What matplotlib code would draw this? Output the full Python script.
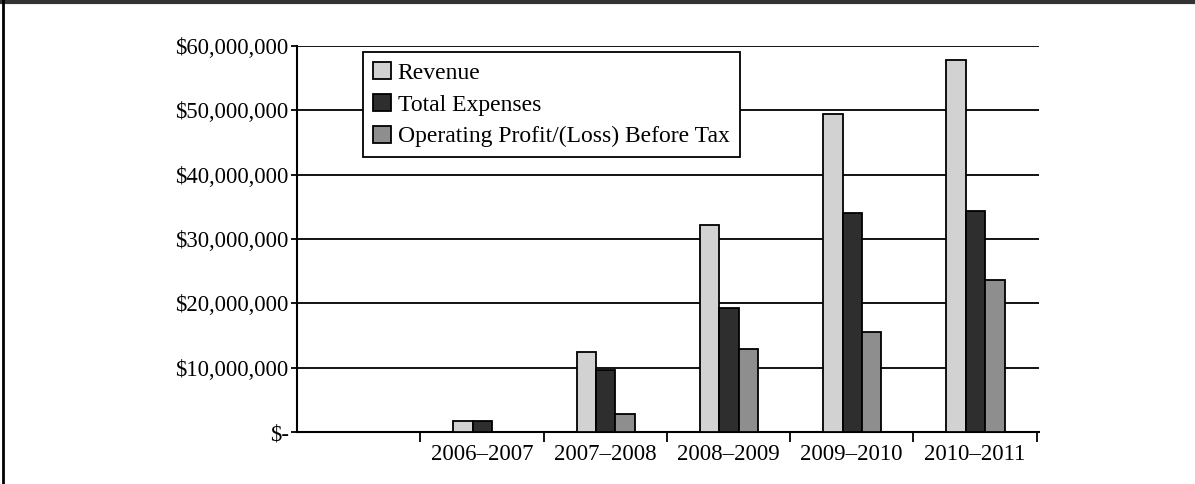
import matplotlib
matplotlib.use("Agg")
import matplotlib.pyplot as plt
import numpy as np
from matplotlib.lines import Line2D

categories = ["2006–2007", "2007–2008", "2008–2009", "2009–2010", "2010–2011"]
revenue = [1.75e6, 12.4e6, 32.2e6, 49.5e6, 57.8e6]
expenses = [1.7e6, 9.6e6, 19.3e6, 34.0e6, 34.3e6]
profit = [0.05e6, 2.8e6, 12.9e6, 15.6e6, 23.6e6]
series_names = ["Revenue", "Total Expenses", "Operating Profit/(Loss) Before Tax"]
y_ticks = [0, 10e6, 20e6, 30e6, 40e6, 50e6, 60e6]
y_labels = ["$-", "$10,000,000", "$20,000,000", "$30,000,000", "$40,000,000", "$50,000,000", "$60,000,000"]

plt.rcParams['font.family'] = ['Liberation Serif', 'DejaVu Serif']

fig = plt.figure(figsize=(11.95, 4.84), dpi=100)
ax = fig.add_axes([297/1195, 52/484, (1039-297)/1195, (432-46)/484])

x = np.arange(len(categories))
w = 0.157
colors = ["#d2d2d2", "#2e2e2e", "#8e8e8e"]
for i, (vals, c, name) in enumerate(zip([revenue, expenses, profit], colors, series_names)):
    ax.bar(x + (i - 1) * w + 0.005, vals, width=w, color=c, edgecolor="black", linewidth=1.3,
           label=name, zorder=3)

ax.set_xlim(-1.5, 4.52)
ax.set_ylim(0, 60e6)
ax.set_yticks(y_ticks)
ax.set_yticklabels(y_labels)
ax.yaxis.grid(True, color="black", linewidth=1.3, zorder=0)
ax.set_axisbelow(True)

ax.set_xticks(x)
ax.set_xticklabels(categories)
ax.set_xticks(np.arange(-0.5, 4.6, 1.0), minor=True)
ax.tick_params(axis="x", which="major", length=0, pad=9, labelsize=16.5)
ax.tick_params(axis="x", which="minor", length=7, width=1.3, direction="out")
ax.tick_params(axis="y", length=4, width=1.3, pad=2, labelsize=16.3)

for s in ["top", "right"]:
    ax.spines[s].set_visible(False)
for s in ["left", "bottom"]:
    ax.spines[s].set_linewidth(1.5)
    ax.spines[s].set_color("black")

leg = ax.legend(loc="upper left", bbox_to_anchor=((363-297)/742, (432-52)/386),
                frameon=True, fancybox=False, fontsize=17, handlelength=0.75, handleheight=0.75,
                handletextpad=0.3, labelspacing=0.42, borderpad=0.42, borderaxespad=0)
leg.get_frame().set_edgecolor("black")
leg.get_frame().set_linewidth(1.3)
leg.get_frame().set_facecolor("white")
leg.get_frame().set_alpha(1)
leg.set_zorder(5)

# figure frame (top and left)
fig.add_artist(Line2D([0, 1], [1 - 2/484, 1 - 2/484], transform=fig.transFigure, color="#333333", linewidth=3))
fig.add_artist(Line2D([3/1195, 3/1195], [0, 1], transform=fig.transFigure, color="black", linewidth=2))

fig.savefig("out.png", dpi=100)
